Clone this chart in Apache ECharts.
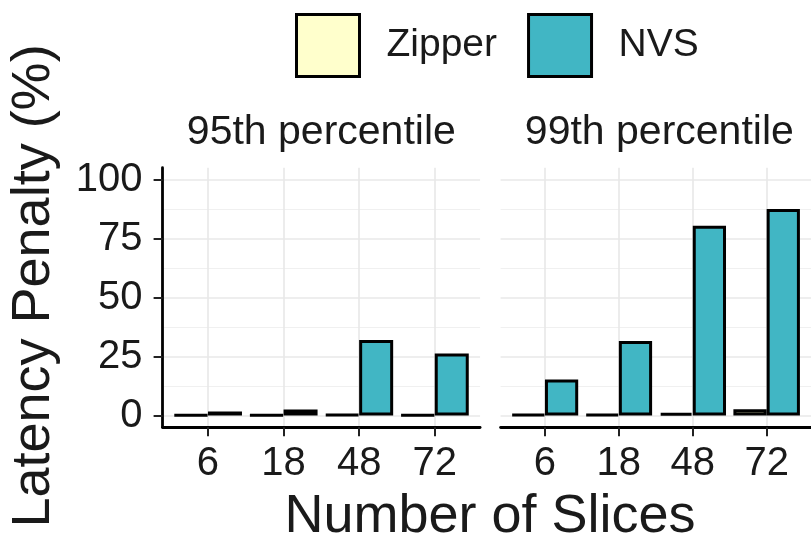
<!DOCTYPE html>
<html>
<head>
<meta charset="utf-8">
<script src="https://cdn.jsdelivr.net/npm/echarts@6/dist/echarts.min.js"></script>
<style>html,body{margin:0;padding:0;background:#fff}#c{width:811px;height:539px}</style>
</head>
<body>
<div id="c"></div>
<script>
// ---- data ----
var categories = ['6', '18', '48', '72'];
var panels = ['95th percentile', '99th percentile'];
var seriesNames = ['Zipper', 'NVS'];
var zipper95 = [0.3, 0.3, 0.5, 0.3];
var nvs95 = [1.7, 2.5, 32.0, 26.3];
var zipper99 = [0.4, 0.5, 1.0, 2.6];
var nvs99 = [15.3, 31.6, 80.4, 87.5];
var yTicks = [0, 25, 50, 75, 100];
var yMinor = [12.5, 37.5, 62.5, 87.5];

var colors = { Zipper: '#FFFFCC', NVS: '#41B6C4' };
var FONT = '"Liberation Sans", Arial, Helvetica, sans-serif';
var TXT = '#1a1a1a';
var catPos = categories.map(function (c, i) { return i + 1; });

function pairs(vals) { return vals.map(function (v, i) { return [catPos[i], v]; }); }

var chart = echarts.init(document.getElementById('c'), null, { renderer: 'canvas' });

var gridTop = 167.7, gridH = 259.6;
var grids = [
  { left: 162.6, top: gridTop, width: 317.5, height: gridH },
  { left: 500.6, top: gridTop, width: 317.5, height: gridH }
];

var xAxes = [], yAxes = [], series = [];
grids.forEach(function (g, gi) {
  xAxes.push({
    type: 'value', gridIndex: gi, min: 0.4, max: 4.6,
    axisLine: { show: true, onZero: false, lineStyle: { color: '#000', width: 2.8 } },
    axisTick: { show: true, length: 9, lineStyle: { color: '#222', width: 2 }, customValues: catPos },
    axisLabel: { show: true, customValues: catPos, margin: 17, color: TXT, fontSize: 40, fontFamily: FONT,
      formatter: function (v) { return categories[Math.round(v) - 1]; } },
    splitLine: { show: true, lineStyle: { color: '#E8E8E8', width: 1.6 } },
    minorSplitLine: { show: false }
  });
  yAxes.push({
    type: 'value', gridIndex: gi, min: -5, max: 105, position: 'left',
    axisLine: { show: gi === 0, onZero: false, lineStyle: { color: '#000', width: 2.8 } },
    axisTick: { show: gi === 0, length: 9, lineStyle: { color: '#222', width: 2 }, customValues: yTicks },
    axisLabel: { show: gi === 0, customValues: yTicks, margin: 20, color: TXT, fontSize: 40, fontFamily: FONT },
    splitLine: { show: true, lineStyle: { color: '#E8E8E8', width: 1.6 } }
  });
  yAxes.push({
    type: 'value', gridIndex: gi, min: -5, max: 105, position: 'left', offset: 0,
    axisLine: { show: false }, axisLabel: { show: false },
    axisTick: { show: false, customValues: yMinor },
    splitLine: { show: true, lineStyle: { color: '#F0F0F0', width: 1 } }
  });
});

var panelData = [[zipper95, nvs95], [zipper99, nvs99]];
panelData.forEach(function (pd, gi) {
  pd.forEach(function (vals, si) {
    series.push({
      type: 'bar', name: seriesNames[si], xAxisIndex: gi, yAxisIndex: gi * 2,
      data: pairs(vals), barWidth: '45%', barGap: '0%',
      itemStyle: { color: colors[seriesNames[si]], borderColor: '#000', borderWidth: 3 },
      emphasis: { disabled: true }, z: 3
    });
  });
});

var graphics = [];
panels.forEach(function (p, gi) {
  var g = grids[gi];
  graphics.push({ type: 'text', x: g.left + g.width / 2, y: 133,
    style: { text: p, font: '41px ' + FONT, fill: TXT, textAlign: 'center', textVerticalAlign: 'middle' } });
});
graphics.push({ type: 'text', x: 490, y: 517,
  style: { text: 'Number of Slices', font: '54px ' + FONT, fill: TXT, textAlign: 'center', textVerticalAlign: 'middle' } });
graphics.push({ type: 'text', x: 34, y: 286, rotation: Math.PI / 2,
  style: { text: 'Latency Penalty (%)', font: '54px ' + FONT, fill: TXT, textAlign: 'center', textVerticalAlign: 'middle' } });

chart.setOption({
  animation: false,
  backgroundColor: '#fff',
  grid: grids,
  xAxis: xAxes,
  yAxis: yAxes,
  legend: {
    data: seriesNames, left: 295, top: 13, padding: 0, itemWidth: 63, itemHeight: 62, itemGap: 30,
    icon: 'rect',
    itemStyle: { borderColor: '#000', borderWidth: 3 },
    textStyle: { color: TXT, fontSize: 39, fontFamily: FONT, padding: [0, 0, 0, 22] }
  },
  series: series,
  graphic: graphics
});
</script>
</body>
</html>
